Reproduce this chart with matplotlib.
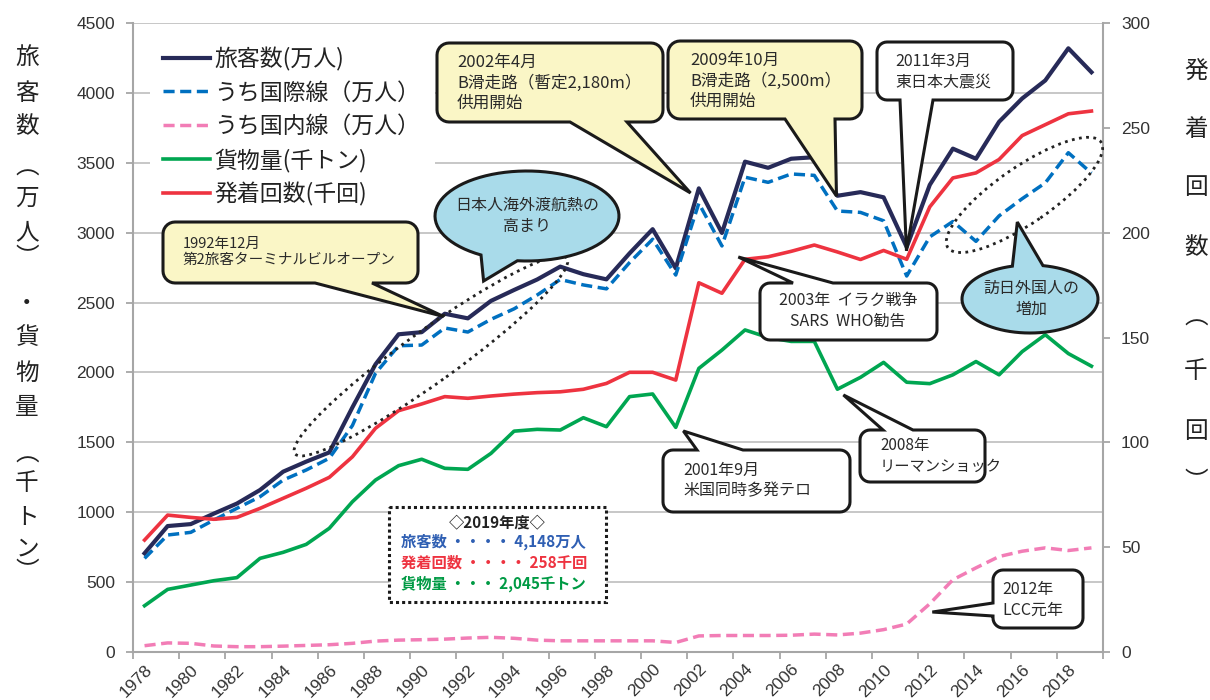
import numpy as np
import matplotlib
matplotlib.use("Agg")
from matplotlib import pyplot as plt
from matplotlib.patches import Polygon, Ellipse, Rectangle
from matplotlib.transforms import Affine2D, ScaledTranslation

plt.rcParams['font.family'] = ['Noto Sans CJK JP', 'DejaVu Sans']

# ---- data ----
years = np.arange(1978, 2020)
# 旅客数 (万人)
passengers = [706, 901, 915, 990, 1062, 1159, 1290, 1362, 1428, 1750,
              2058, 2273, 2288, 2420, 2387, 2512, 2590, 2665, 2757, 2703,
              2666, 2852, 3025, 2745, 3317, 2998, 3508, 3464, 3529, 3540,
              3264, 3290, 3253, 2897, 3342, 3601, 3529, 3793, 3960, 4089,
              4319, 4148]
# うち国際線 (万人)
international = [670, 837, 856, 944, 1028, 1111, 1230, 1302, 1386, 1620,
                 1994, 2191, 2196, 2318, 2289, 2380, 2455, 2554, 2665, 2626,
                 2598, 2786, 2953, 2697, 3210, 2905, 3397, 3360, 3420, 3410,
                 3155, 3145, 3085, 2690, 2970, 3080, 2938, 3120, 3243, 3356,
                 3572, 3426]
# うち国内線 (万人)
domestic = [45, 65, 62, 43, 38, 38, 42, 47, 52, 62,
            78, 85, 88, 92, 100, 105, 98, 85, 80, 80,
            80, 80, 80, 68, 115, 118, 118, 118, 120, 128,
            122, 135, 160, 200, 345, 517, 602, 683, 721, 745,
            726, 745]
# 貨物量 (千トン)
cargo = [331, 448, 479, 510, 532, 670, 713, 770, 885, 1075,
         1230, 1333, 1379, 1314, 1307, 1421, 1580, 1593, 1588, 1676,
         1612, 1827, 1846, 1607, 2029, 2160, 2304, 2250, 2222, 2222,
         1880, 1965, 2072, 1930, 1920, 1983, 2078, 1983, 2149, 2270,
         2135, 2045]
# 発着回数 (千回)
movements = [53.4, 65.3, 64.2, 63.3, 64.2, 68.5, 73.3, 78.1, 83.3, 93.1,
             106.7, 115.1, 118.3, 121.8, 121.0, 122.1, 123.0, 123.7, 124.1, 125.3,
             128.1, 133.4, 133.4, 129.7, 176.1, 171.1, 187.3, 188.5, 191.1, 194.1,
             190.8, 187.2, 191.5, 187.3, 212.3, 226.1, 228.5, 234.9, 246.3, 251.5,
             256.7, 258.0]

labels = ['旅客数(万人)', 'うち国際線（万人）', 'うち国内線（万人）', '貨物量(千トン)', '発着回数(千回)']

navy = '#272a58'
blue = '#0070c0'
pink = '#f27db6'
green = '#00a651'
red = '#ee3340'
gray = '#a6a6a6'
txt = '#333333'
yellow = '#faf6c6'
lightblue = '#a9dbea'

W, H = 1210, 700
fig = plt.figure(figsize=(W / 100, H / 100), dpi=100)
L, R, T, B = 133, 1103, 23, 652
ax = fig.add_axes([L / W, 1 - B / H, (R - L) / W, (B - T) / H])
ax2 = ax.twinx()

# pixel coordinates (y down) -> display
pix = Affine2D().scale(1, -1).translate(0, H)

l1, = ax.plot(years, passengers, color=navy, lw=3.0, zorder=3)
l2, = ax.plot(years, international, color=blue, lw=2.5, dashes=(3.2, 1.6), zorder=4)
l3, = ax.plot(years, domestic, color=pink, lw=2.5, dashes=(3.2, 1.6), zorder=3)
l4, = ax.plot(years, cargo, color=green, lw=2.6, zorder=3)
l5, = ax2.plot(years, movements, color=red, lw=2.6, zorder=3)

ax.set_xlim(1977.5, 2019.5)
ax.set_ylim(0, 4500)
ax2.set_ylim(0, 300)
ax.set_yticks(range(0, 4501, 500))
ax2.set_yticks(range(0, 301, 50))
ax.set_xticks(years[::2])
ax.set_xticklabels([str(y) for y in years[::2]], rotation=45, ha='right',
                   va='top', rotation_mode='anchor')
ax.set_xticks(np.arange(1977.5, 2020, 2), minor=True)
ax.tick_params(axis='x', which='major', length=0, pad=7, labelsize=12.5, labelcolor=txt)
ax.tick_params(axis='x', which='minor', length=5, width=1.3, color=gray)
ax.tick_params(axis='y', length=5, width=1.3, color=gray, labelsize=12.5, labelcolor=txt, pad=8)
ax2.tick_params(axis='y', length=5, width=1.3, color=gray, labelsize=12.5, labelcolor=txt, pad=8)
for t in ax.get_xticklabels() + ax.get_yticklabels() + ax2.get_yticklabels():
    t.set_family(['Liberation Sans', 'DejaVu Sans'])

ax.yaxis.grid(True, color='#c3c3c3', lw=1.3)
ax.set_axisbelow(True)
ax.spines['top'].set_visible(False)
ax.spines['right'].set_visible(False)
for s in ['top', 'left', 'bottom']:
    ax2.spines[s].set_visible(False)
for sp in [ax.spines['left'], ax.spines['bottom'], ax2.spines['right']]:
    sp.set_color(gray)
    sp.set_linewidth(1.5)

# legend on a white patch
ax.add_patch(Rectangle((150, 35), 285, 175, transform=pix, fc='white', ec='none', zorder=1))
leg = ax.legend([l1, l2, l3, l4, l5], labels, loc='upper left',
                bbox_to_anchor=((163 - L) / (R - L), 1 - (47 - T) / (B - T)),
                frameon=False, fontsize=16.5, handlelength=2.05, handletextpad=0.2,
                labelspacing=0.45, borderpad=0, borderaxespad=0)
for t in leg.get_texts():
    t.set_color('#222222')

# axis titles, one character per row
left_chars = ['旅', '客', '数', '︵', '万', '人', '︶', '・', '貨', '物', '量', '︵', '千', 'ト', 'ン', '︶']
left_rows = [57, 93, 127, 168, 198, 233, 258, 303, 338, 373, 408, 455, 483, 517, 549, 572]
for c, yy in zip(left_chars, left_rows):
    fig.text(27 / W, 1 - yy / H, c, ha='center', va='center', fontsize=17, color='#222222')
right_chars = ['発', '着', '回', '数', '︵', '千', '回', '︶']
right_rows = [72, 130, 188, 248, 318, 371, 432, 482]
for c, yy in zip(right_chars, right_rows):
    fig.text(1196 / W, 1 - yy / H, c, ha='center', va='center', fontsize=17, color='#222222')


def to_px(x, y):
    d = ax.transData.transform((x, y))
    return d[0], H - d[1]


def rrect_callout(x0, y0, x1, y1, edge, a, b, tip, fc, r=10, n=8):
    tx, ty = to_px(*tip)
    pts = []
    def arc(cx, cy, t0, t1):
        for t in np.linspace(np.radians(t0), np.radians(t1), n):
            pts.append((cx + r * np.cos(t), cy + r * np.sin(t)))
    arc(x0 + r, y0 + r, 180, 270)
    if edge == 'top':
        pts += [(a, y0), (tx, ty), (b, y0)]
    arc(x1 - r, y0 + r, 270, 360)
    arc(x1 - r, y1 - r, 0, 90)
    if edge == 'bottom':
        pts += [(b, y1), (tx, ty), (a, y1)]
    arc(x0 + r, y1 - r, 90, 180)
    if edge == 'left':
        pts += [(x0, b), (tx, ty), (x0, a)]
    ax2.add_patch(Polygon(pts, closed=True, transform=pix, fc=fc, ec='#1a1a1a',
                          lw=2.2, joinstyle='miter', clip_on=False, zorder=10))


def balloon(cx, cy, rx, ry, t0, t1, tip):
    tx, ty = to_px(*tip)
    pts = []
    for t in np.linspace(np.radians(t1), np.radians(t0 + 360), 80):
        pts.append((cx + rx * np.cos(t), cy + ry * np.sin(t)))
    pts.append((tx, ty))
    ax2.add_patch(Polygon(pts, closed=True, transform=pix, fc=lightblue, ec='#1a1a1a',
                          lw=2.2, clip_on=False, zorder=10))


def label(x, y, s, size=11.5, ha='left', **kw):
    ax2.text(x, y, s, transform=pix, ha=ha, va='center', fontsize=size,
             color='#2a2a2a', zorder=11, linespacing=1.25, **kw)


def dotted_ellipse(x, y, w, h, ang):
    tr = fig.dpi_scale_trans + ScaledTranslation(x, y, ax.transData)
    ax2.add_patch(Ellipse((0, 0), w / 100, h / 100, angle=ang, transform=tr,
                          fc='none', ec='#222222', lw=2.0, ls=(0, (1, 1.6)),
                          clip_on=False, zorder=9))


dotted_ellipse(1990.4, 2118, 335, 52, 35.7)
dotted_ellipse(2016.1, 3270, 186, 56, 34.6)

rrect_callout(163, 222, 418, 283, 'bottom', 315, 372, (1990.95, 2400), yellow, r=12)
label(183, 252, '1992年12月\n第2旅客ターミナルビルオープン', size=10.5)

rrect_callout(437, 43, 663, 122, 'bottom', 570, 627, (2001.64, 3284), yellow, r=12)
label(457, 83, '2002年4月\nB滑走路（暫定2,180m）\n供用開始', size=12)

rrect_callout(668, 41, 862, 119, 'bottom', 785, 835, (2007.96, 3262), yellow, r=12)
label(690, 81, '2009年10月\nB滑走路（2,500m）\n供用開始', size=12)

rrect_callout(877, 42, 1013, 100, 'bottom', 900, 933, (2010.99, 2870), 'white', r=10)
label(895, 72, '2011年3月\n東日本大震災', size=11.5)

balloon(527, 216, 92, 45, 96, 120, (1992.68, 2654))
label(527, 216, '日本人海外渡航熱の\n高まり', size=11.5, ha='center', multialignment='center')

rrect_callout(760, 283, 937, 340, 'top', 793, 833, (2003.71, 2826), 'white', r=10)
label(848, 311, '2003年  イラク戦争\nSARS  WHO勧告', size=11.5, ha='center', multialignment='center')

balloon(1030, 299, 68, 34, 255, 281, (2015.79, 3076))
label(1031, 299, '訪日外国人の\n増加', size=11.5, ha='center', multialignment='center')

rrect_callout(663, 450, 850, 512, 'top', 697, 743, (2001.33, 1581), 'white', r=10)
label(683, 481, '2001年9月\n米国同時多発テロ', size=11.5)

rrect_callout(860, 430, 985, 482, 'top', 883, 913, (2008.26, 1839), 'white', r=10)
label(880, 456, '2008年\nリーマンショック', size=11)

rrect_callout(993, 570, 1083, 628, 'left', 603, 616, (2012.11, 286), 'white', r=10)
label(1002, 600, '2012年\nLCC元年', size=11.5)

# 2019 summary box
ax2.add_patch(Rectangle((389, 507), 217, 95, transform=pix, fc='white', ec='#1a1a1a',
                        lw=2.2, ls=(0, (1, 1)), clip_on=False, zorder=10))
ax2.text(497, 522, '◇2019年度◇', transform=pix, ha='center', va='center', fontsize=11,
         fontweight='bold', color='#222222', zorder=11)
ax2.text(401, 542, '旅客数 ・・・・ 4,148万人', transform=pix, ha='left', va='center',
         fontsize=11, fontweight='bold', color='#2f5fb3', zorder=11)
ax2.text(401, 563, '発着回数 ・・・・ 258千回', transform=pix, ha='left', va='center',
         fontsize=11, fontweight='bold', color=red, zorder=11)
ax2.text(401, 584, '貨物量 ・・・ 2,045千トン', transform=pix, ha='left', va='center',
         fontsize=11, fontweight='bold', color='#009a44', zorder=11)

fig.savefig('out.png', dpi=100)
